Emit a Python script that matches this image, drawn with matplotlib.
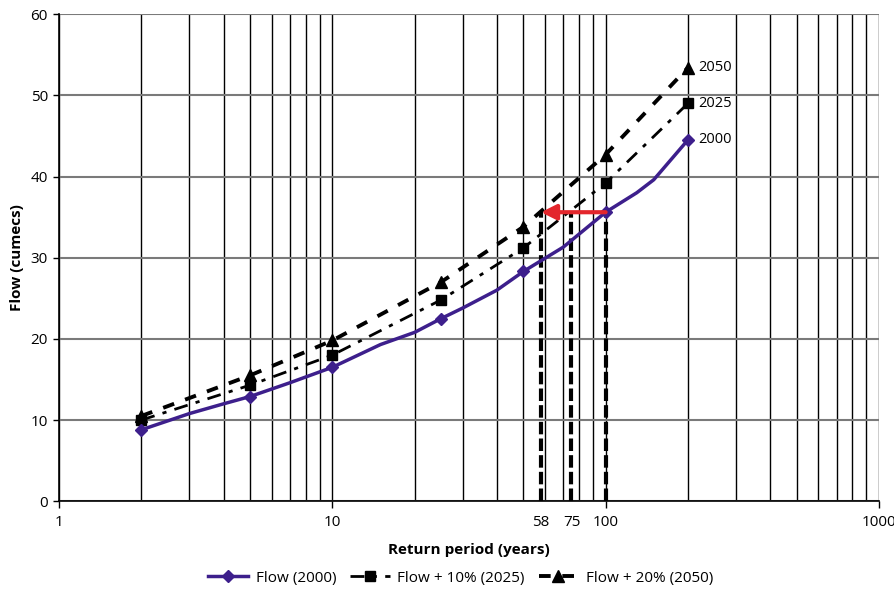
"""Return period vs flow curves (2000 / 2025 / 2050) on a log x axis."""
import matplotlib
matplotlib.use("Agg")
import matplotlib.pyplot as plt
from matplotlib.ticker import LogLocator, NullFormatter

plt.rcParams["font.family"] = ["Open Sans", "DejaVu Sans"]

# marker positions (return period, years)
marker_periods = [2, 5, 10, 25, 50, 100, 200]

# flow (2000)
flow_2000_x = [2, 3, 4, 5, 7, 10, 15, 20, 25, 30, 40, 50, 70, 100, 130, 150, 200]
flow_2000_y = [8.8, 10.8, 12.0, 12.9, 14.6, 16.5, 19.3, 20.8, 22.5, 23.8, 26.0,
               28.3, 31.3, 35.6, 38.0, 39.6, 44.5]

# flow + 10% (2025) and + 20% (2050) at the marker periods
flow_2025 = [10.0, 14.3, 18.0, 24.8, 31.2, 39.2, 49.0]
flow_2050 = [10.5, 15.5, 19.8, 27.0, 33.8, 42.7, 53.4]

# design flow read-across: 100-yr flow today reached at 75 yr (2025) / 58 yr (2050)
design_flow = 35.6
design_periods = [58, 75, 100]

fig = plt.figure(figsize=(8.95, 5.89), dpi=100)
ax = fig.add_axes([0.066, 0.149, 0.916, 0.827])

ax.set_xscale("log")
ax.set_xlim(1, 1000)
ax.set_ylim(0, 60)

# grid: black verticals on every log step, grey horizontals
ax.xaxis.set_minor_locator(LogLocator(base=10, subs=range(2, 10)))
ax.xaxis.set_minor_formatter(NullFormatter())
ax.set_xticks([1, 10, 58, 75, 100, 1000])
ax.set_xticklabels(["1", "10", "58", "75", "100", "1000"])
ax.grid(True, which="both", axis="x", color="black", linewidth=1.0)
ax.grid(True, which="major", axis="y", color="#7a7a7a", linewidth=1.5)
ax.set_yticks(range(0, 61, 10))
ax.set_axisbelow(True)

for t in ax.xaxis.get_major_ticks():
    if t.get_loc() in (58, 75):
        t.tick1line.set_visible(False)
        t.gridline.set_visible(False)

for s in ("top", "right"):
    ax.spines[s].set_visible(False)
for s in ("left", "bottom"):
    ax.spines[s].set_linewidth(1.2)

ax.tick_params(axis="x", which="major", length=5, width=1, pad=5, labelsize=11)
ax.tick_params(axis="x", which="minor", length=0)
ax.tick_params(axis="y", length=4, width=1, pad=4, labelsize=11)

# vertical dashed read-downs
tops = {58: design_flow + 0.2, 75: design_flow, 100: design_flow}
for p in design_periods:
    ax.plot([p, p], [0, tops[p]], color="black", linewidth=3,
            linestyle=(0, (3, 1)), zorder=3)

ax.plot(flow_2000_x, flow_2000_y, color="#3d1f8c", linewidth=2.5, zorder=5)
ax.plot(marker_periods, [flow_2000_y[flow_2000_x.index(p)] for p in marker_periods],
        linestyle="none", marker="D", markersize=6, color="#3d1f8c", zorder=6)
# legend proxy for the purple curve (line + marker)
ax.plot([], [], color="#3d1f8c", linewidth=2.5, marker="D", markersize=6,
        label="Flow (2000)")

ax.plot(marker_periods, flow_2025, color="black", linewidth=2,
        linestyle=(0, (5, 3, 1.5, 3)), marker="s", markersize=7, zorder=5,
        label="Flow + 10% (2025)")
ax.plot(marker_periods, flow_2050, color="black", linewidth=2.8,
        linestyle=(0, (3, 3)), marker="^", markersize=8, zorder=5,
        label="Flow + 20% (2050)")

ax.annotate("", xy=(58, design_flow), xytext=(100, design_flow),
            arrowprops=dict(arrowstyle="-|>,head_length=0.9,head_width=0.45",
                            color="#e3262c", linewidth=3, shrinkA=0, shrinkB=0),
            zorder=7)

for val, txt in [(flow_2050[-1], "2050"), (flow_2025[-1], "2025"),
                 (flow_2000_y[-1], "2000")]:
    ax.text(200 * 1.09, val, txt, fontsize=10.5, va="center", ha="left")

ax.set_xlabel("Return period (years)", fontsize=11, fontweight="bold", labelpad=9)
ax.set_ylabel("Flow (cumecs)", fontsize=11, fontweight="bold", labelpad=5)

ax.legend(loc="center", bbox_to_anchor=(0.49, -0.158), ncol=3,
          frameon=False, fontsize=11, handlelength=2.6, columnspacing=0.9,
          handletextpad=0.5, borderpad=0.2)

fig.savefig("out.png", dpi=100)
